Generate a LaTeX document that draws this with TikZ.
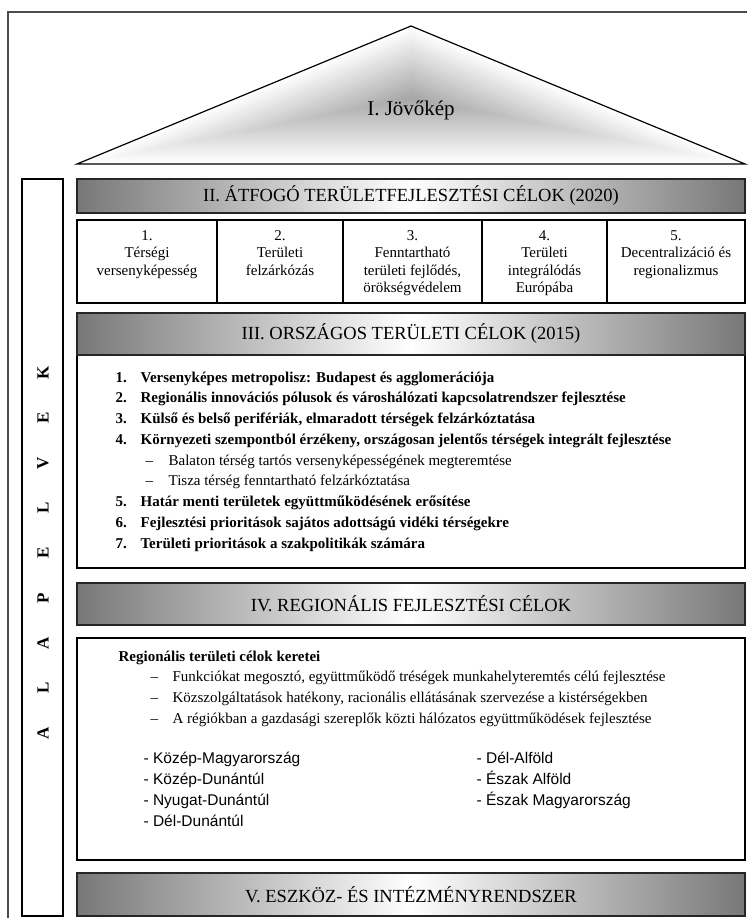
\documentclass[tikz,border=0pt]{standalone}
\usepackage{fontspec}
\setmainfont{Liberation Serif}
\newfontfamily\regsans{Liberation Sans}
\usetikzlibrary{positioning}

\begin{document}
\begin{tikzpicture}[x=1pt,y=-1pt,line width=1.2pt,
    header/.style={draw=black!85,left color=black!53,right color=black!53,
      middle color=white,minimum width=668,outer sep=0pt,
      font=\fontsize{18.5}{22}\selectfont},
    box/.style={draw,fill=white,outer sep=0pt,anchor=north west},
    goal/.style={box,minimum height=83,inner sep=0pt,
      font=\fontsize{15}{17.5}\selectfont},
    letter/.style={rotate=90,font=\bfseries\fontsize{17}{17}\selectfont},
    body/.style={anchor=north west,inner sep=0pt,align=left,
      font=\fontsize{15}{20.75}\selectfont}]
  \useasboundingbox (0,0) rectangle (747,918);
  \draw[black!70] (8,918) -- (8,12) -- (747,12);
  \coordinate (apex) at (411,26);
  \coordinate (bl) at (77,164);
  \coordinate (br) at (745,164);
  \foreach \i in {0,...,49}{
    \pgfmathsetmacro\s{1-\i/50}
    \pgfmathsetmacro\k{\i*0.7}
    \fill[black!\k,scale around={\s:(411,98)}] (77,164) -- (411,26) -- (745,164) -- cycle;
  }
  \draw (bl) -- (apex) -- (br) -- cycle;
  \node[font=\fontsize{21}{24}\selectfont] (vision) at (411,110) {I. Jövőkép};

  \node[box,minimum width=41,minimum height=737] (col) at (22,179) {};
  \foreach \c [count=\i] in {A,L,A,P,E,L,V,E,K}
    \node[letter] (a\i) at (43,{733-45*(\i-1)}) {\c};

  \node[header,minimum height=34] (hII) at (411,196)
    {II. ÁTFOGÓ TERÜLETFEJLESZTÉSI CÉLOK (2020)};
  \node[goal,minimum width=140] (g1) at (77,220)
    {\parbox[c][62pt][t]{134pt}{\centering 1.\\Térségi\\versenyképesség}};
  \node[goal,minimum width=126,right=0pt of g1] (g2)
    {\parbox[c][62pt][t]{120pt}{\centering 2.\\Területi\\felzárkózás}};
  \node[goal,minimum width=139,right=0pt of g2] (g3)
    {\parbox[c][62pt][t]{133pt}{\centering 3.\\Fenntartható\\területi fejlődés,\\örökségvédelem}};
  \node[goal,minimum width=125,right=0pt of g3] (g4)
    {\parbox[c][62pt][t]{119pt}{\centering 4.\\Területi\\integrálódás\\Európába}};
  \node[goal,minimum width=138,right=0pt of g4] (g5)
    {\parbox[c][62pt][t]{132pt}{\centering 5.\\Decentralizáció és\\regionalizmus}};

  \node[box,minimum width=668,minimum height=213] (bIII) at (77,355) {};
  \node[header,minimum height=42] (hIII) at (411,334)
    {III. ORSZÁGOS TERÜLETI CÉLOK (2015)};
  \node[body] (tIII) at (115,371) {%
    \textbf{\makebox[25pt][l]{1.}Versenyképes metropolisz: Budapest és agglomerációja}\\
    \textbf{\makebox[25pt][l]{2.}Regionális innovációs pólusok és városhálózati kapcsolatrendszer fejlesztése}\\
    \textbf{\makebox[25pt][l]{3.}Külső és belső perifériák, elmaradott térségek felzárkóztatása}\\
    \textbf{\makebox[25pt][l]{4.}Környezeti szempontból érzékeny, országosan jelentős térségek integrált fejlesztése}\\
    \hspace*{30pt}\makebox[23pt][l]{--}Balaton térség tartós versenyképességének megteremtése\\
    \hspace*{30pt}\makebox[23pt][l]{--}Tisza térség fenntartható felzárkóztatása\\
    \textbf{\makebox[25pt][l]{5.}Határ menti területek együttműködésének erősítése}\\
    \textbf{\makebox[25pt][l]{6.}Fejlesztési prioritások sajátos adottságú vidéki térségekre}\\
    \textbf{\makebox[25pt][l]{7.}Területi prioritások a szakpolitikák számára}};

  \node[header,minimum height=42] (hIV) at (411,604)
    {IV. REGIONÁLIS FEJLESZTÉSI CÉLOK};
  \node[box,minimum width=668,minimum height=222] (bIV) at (77,638) {};
  \node[body] (tIV) at (118,650) {%
    \textbf{Regionális területi célok keretei}\\
    \hspace*{32pt}\makebox[22pt][l]{--}Funkciókat megosztó, együttműködő tréségek munkahelyteremtés célú fejlesztése\\
    \hspace*{32pt}\makebox[22pt][l]{--}Közszolgáltatások hatékony, racionális ellátásának szervezése a kistérségekben\\
    \hspace*{32pt}\makebox[22pt][l]{--}A régiókban a gazdasági szereplők közti hálózatos együttműködések fejlesztése};
  \node[body,font=\regsans\fontsize{15.5}{21}\selectfont] (reg1) at (143,751)
    {- Közép-Magyarország\\- Közép-Dunántúl\\- Nyugat-Dunántúl\\- Dél-Dunántúl};
  \node[body,font=\regsans\fontsize{15.5}{21}\selectfont] (reg2) at (476,751)
    {- Dél-Alföld\\- Észak Alföld\\- Észak Magyarország};

  \node[header,minimum height=43] (hV) at (411,894.5)
    {V. ESZKÖZ- ÉS INTÉZMÉNYRENDSZER};
\end{tikzpicture}
\end{document}
